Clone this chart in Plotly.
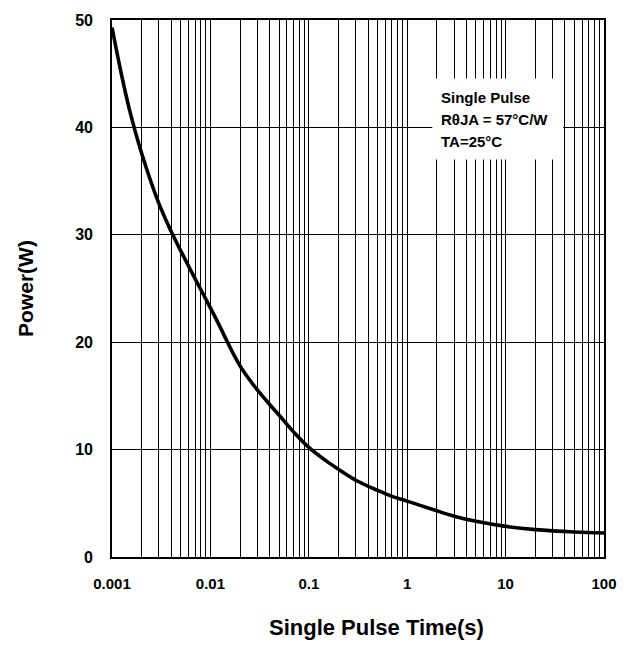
import plotly.graph_objects as go

# Data
pulse_time = [0.001, 0.00125, 0.0015, 0.002, 0.003, 0.004, 0.005, 0.007, 0.01, 0.0125,
              0.015, 0.0175, 0.02, 0.025, 0.03, 0.04, 0.05, 0.07, 0.1, 0.15,
              0.2, 0.3, 0.5, 0.7, 1, 2, 3, 5, 10, 20, 50, 100]
power_w = [49.3, 44.9, 41.7, 37.6, 32.9, 30.3, 28.5, 25.9, 23.2, 21.45,
           19.95, 18.75, 17.8, 16.5, 15.55, 14.2, 13.2, 11.65, 10.2, 8.95,
           8.17, 7.15, 6.2, 5.65, 5.2, 4.3, 3.8, 3.32, 2.85, 2.55, 2.33, 2.24]

x_tickvals = [0.001, 0.01, 0.1, 1, 10, 100]
x_ticktext = ["0.001", "0.01", "0.1", "1", "10", "100"]
x_minor = [m * d for d in [0.001, 0.01, 0.1, 1, 10] for m in range(2, 10)]
y_tickvals = [0, 10, 20, 30, 40, 50]

info_lines = ["Single Pulse", "RθJA = 57°C/W", "TA=25°C"]

FONT = "Liberation Sans, Arial, sans-serif"

fig = go.Figure()
fig.add_trace(go.Scatter(
    x=pulse_time, y=power_w, mode="lines",
    line=dict(color="black", width=3.6, shape="spline", smoothing=1.0),
    hoverinfo="skip", showlegend=False,
))

fig.update_layout(
    width=633, height=645,
    margin=dict(l=112, r=29, t=14, b=88),
    paper_bgcolor="white", plot_bgcolor="white",
    font=dict(family=FONT, color="black"),
    showlegend=False,
    xaxis=dict(
        type="log", range=[-3, 2],
        tickvals=x_tickvals, ticktext=x_ticktext,
        showgrid=True, gridcolor="black", gridwidth=1.4,
        minor=dict(tickvals=x_minor, showgrid=True, gridcolor="black", gridwidth=1.4, ticks=""),
        showline=True, linecolor="black", linewidth=1.6, mirror=True,
        ticks="", ticklabelstandoff=12,
        tickfont=dict(family=FONT, size=15, weight="bold", color="black"),
        zeroline=False,
    ),
    yaxis=dict(
        range=[0, 50], tickvals=y_tickvals,
        showgrid=True, gridcolor="black", gridwidth=1.4,
        showline=True, linecolor="black", linewidth=1.6, mirror=True,
        ticks="", ticklabelstandoff=14,
        tickfont=dict(family=FONT, size=16, weight="bold", color="black"),
        zeroline=False,
    ),
)

# White info box covering the grid
fig.add_shape(type="rect", xref="paper", yref="paper",
              x0=0.651, x1=0.917, y0=0.740, y1=0.891,
              fillcolor="white", line=dict(width=0), layer="above")

for txt, yp in zip(info_lines, [0.856, 0.814, 0.7735]):
    fig.add_annotation(text=txt, xref="paper", yref="paper", x=0.6655, y=yp,
                       xanchor="left", yanchor="middle", showarrow=False,
                       font=dict(family=FONT, size=15, weight="bold", color="black"))

# Axis titles
fig.add_annotation(text="Single Pulse Time(s)", xref="paper", yref="paper",
                   x=0.537, y=-0.131, xanchor="center", yanchor="middle", showarrow=False,
                   font=dict(family=FONT, size=22, weight="bold", color="black"))
fig.add_annotation(text="Power(W)", xref="paper", yref="paper",
                   x=-0.176, y=0.5, xanchor="center", yanchor="middle", showarrow=False,
                   textangle=-90,
                   font=dict(family=FONT, size=21, weight="bold", color="black"))

fig.write_html("out.html", config={"displayModeBar": False},
               post_script="document.body.style.margin='0';")
